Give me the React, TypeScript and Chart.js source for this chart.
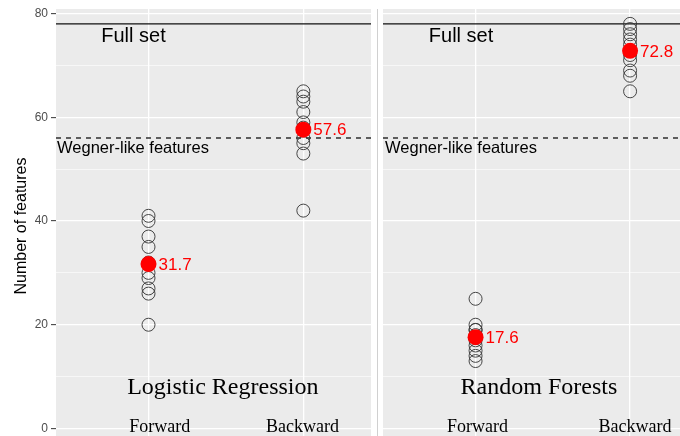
import { useEffect, useRef } from "react";
import { Chart, registerables } from "chart.js";

Chart.register(...registerables);

// ---------- data ----------
const categories = ["Forward", "Backward"];
const panelTitles = ["Logistic Regression", "Random Forests"];
const lrForward = [41, 40, 37, 35, 32, 30, 29, 27, 26, 20];
const lrBackward = [65, 64, 63, 61, 59, 58, 56, 55, 53, 42];
const rfForward = [25, 20, 19, 19, 18, 17, 16, 15, 14, 13];
const rfBackward = [78, 77, 76, 75, 74, 72, 71, 69, 68, 65];
const lrMeans = [31.7, 57.6];
const rfMeans = [17.6, 72.8];
const fullSetValue = 78;
const wegnerValue = 56;
const yMajorTicks = [0, 20, 40, 60, 80];
const yMinorTicks = [10, 30, 50, 70];
const refLabels = ["Full set", "Wegner-like features"];
const yTitle = "Number of features";

const SANS = "'Liberation Sans', Arial, sans-serif";
const SERIF = "'Liberation Serif', 'Times New Roman', serif";

type TextItem = { text: string; x: number; y: number; size: number; family: string; align: CanvasTextAlign };

function makePanel(
  canvas: HTMLCanvasElement,
  groups: number[][],
  means: number[],
  xMin: number,
  xMax: number,
  showY: boolean,
  texts: TextItem[]
) {
  const circleData: { x: number; y: number }[] = [];
  groups.forEach((g, i) => g.forEach((v) => circleData.push({ x: i + 1, y: v })));
  const meanData = means.map((m, i) => ({ x: i + 1, y: m }));

  const plugin = {
    id: "panelDecor",
    beforeDraw(chart: any) {
      const { ctx, chartArea: a } = chart;
      ctx.save();
      ctx.fillStyle = "#EBEBEB";
      ctx.fillRect(a.left, a.top, a.right - a.left, a.bottom - a.top);
      ctx.restore();
    },
    beforeDatasetsDraw(chart: any) {
      const { ctx, chartArea: a } = chart;
      const y = chart.scales.y;
      ctx.save();
      ctx.strokeStyle = "#111";
      ctx.lineWidth = 1.3;
      let py = y.getPixelForValue(fullSetValue);
      ctx.beginPath();
      ctx.moveTo(a.left, py);
      ctx.lineTo(a.right, py);
      ctx.stroke();
      ctx.setLineDash([5, 5]);
      py = y.getPixelForValue(wegnerValue);
      ctx.beginPath();
      ctx.moveTo(a.left, py);
      ctx.lineTo(a.right, py);
      ctx.stroke();
      ctx.restore();
    },
    afterDraw(chart: any) {
      const { ctx, chartArea: a } = chart;
      const x = chart.scales.x;
      const y = chart.scales.y;
      ctx.save();
      ctx.fillStyle = "#000";
      ctx.textBaseline = "alphabetic";
      texts.forEach((t) => {
        ctx.font = `${t.size}px ${t.family}`;
        ctx.textAlign = t.align;
        ctx.fillText(t.text, x.getPixelForValue(t.x), y.getPixelForValue(t.y));
      });
      // mean labels
      ctx.fillStyle = "#FF0000";
      ctx.font = `17px ${SANS}`;
      ctx.textAlign = "left";
      ctx.textBaseline = "middle";
      means.forEach((m, i) => {
        ctx.fillText(m.toFixed(1), x.getPixelForValue(i + 1) + 10, y.getPixelForValue(m) + 1);
      });
      if (showY) {
        // tick labels
        ctx.fillStyle = "#4D4D4D";
        ctx.font = `12px ${SANS}`;
        ctx.textAlign = "right";
        ctx.textBaseline = "middle";
        yMajorTicks.forEach((v) => {
          ctx.fillText(String(v), a.left - 8, y.getPixelForValue(v));
        });
        ctx.fillStyle = "#000";
        ctx.font = `16px ${SANS}`;
        ctx.textAlign = "center";
        ctx.textBaseline = "middle";
        ctx.translate(22, 226);
        ctx.rotate(-Math.PI / 2);
        ctx.fillText(yTitle, 0, 0);
      }
      ctx.restore();
    },
  };

  return new Chart(canvas, {
    type: "scatter",
    data: {
      datasets: [
        {
          label: "mean",
          data: meanData,
          pointRadius: 8,
          pointHoverRadius: 8,
          pointBackgroundColor: "#FF0000",
          pointBorderColor: "#FF0000",
          pointBorderWidth: 0,
          order: 0,
        },
        {
          label: "runs",
          data: circleData,
          pointRadius: 6.5,
          pointHoverRadius: 6.5,
          pointBackgroundColor: "rgba(0,0,0,0)",
          pointBorderColor: "#333",
          pointBorderWidth: 0.9,
          order: 1,
        },
      ],
    },
    options: {
      animation: false,
      responsive: false,
      devicePixelRatio: 1,
      layout: { autoPadding: false, padding: { top: 9, left: 0, right: 0, bottom: 0 } },
      plugins: { legend: { display: false }, tooltip: { enabled: false } },
      events: [],
      scales: {
        x: {
          type: "linear",
          min: xMin,
          max: xMax,
          border: { display: false },
          ticks: { display: false },
          grid: { color: "#FFFFFF", lineWidth: 1.3, drawTicks: false },
          afterBuildTicks: (s: any) => {
            s.ticks = categories.map((_, i) => ({ value: i + 1 }));
          },
          afterFit: (s: any) => {
            s.height = 0;
          },
        },
        y: {
          type: "linear",
          min: -1.446,
          max: 80.867,
          border: { display: false },
          afterBuildTicks: (s: any) => {
            s.ticks = [...yMajorTicks, ...yMinorTicks].sort((a, b) => a - b).map((v) => ({ value: v }));
          },
          ticks: { display: false },
          grid: {
            color: "#FFFFFF",
            lineWidth: (c: any) => (yMajorTicks.includes(c.tick?.value) ? 1.3 : 0.6),
            drawTicks: showY,
            tickLength: 5,
            tickColor: (c: any) => (yMajorTicks.includes(c.tick?.value) ? "#333333" : "rgba(0,0,0,0)"),
            tickWidth: 1,
          },
          afterFit: (s: any) => {
            s.width = showY ? 56 : 0;
          },
        },
      },
    },
    plugins: [plugin],
  } as any);
}

export default function App() {
  const leftRef = useRef<HTMLCanvasElement>(null);
  const rightRef = useRef<HTMLCanvasElement>(null);

  useEffect(() => {
    const left = makePanel(leftRef.current!, [lrForward, lrBackward], lrMeans, 0.4025, 2.437, true, [
      { text: refLabels[0], x: 0.903, y: 74.6, size: 20, family: SANS, align: "center" },
      { text: refLabels[1], x: 0.409, y: 53.2, size: 16.5, family: SANS, align: "left" },
      { text: panelTitles[0], x: 1.48, y: 6.6, size: 24, family: SERIF, align: "center" },
      { text: categories[0], x: 1.072, y: -0.73, size: 18, family: SERIF, align: "center" },
      { text: categories[1], x: 1.995, y: -0.73, size: 18, family: SERIF, align: "center" },
    ]);
    const right = makePanel(rightRef.current!, [rfForward, rfBackward], rfMeans, 0.401, 2.323, false, [
      { text: refLabels[0], x: 0.906, y: 74.6, size: 20, family: SANS, align: "center" },
      { text: refLabels[1], x: 0.414, y: 53.2, size: 16.5, family: SANS, align: "left" },
      { text: panelTitles[1], x: 1.41, y: 6.6, size: 24, family: SERIF, align: "center" },
      { text: categories[0], x: 1.013, y: -0.73, size: 18, family: SERIF, align: "center" },
      { text: categories[1], x: 2.032, y: -0.73, size: 18, family: SERIF, align: "center" },
    ]);
    return () => {
      left.destroy();
      right.destroy();
    };
  }, []);

  return (
    <div style={{ position: "absolute", left: 0, top: 0, width: 680, height: 436, background: "#fff", overflow: "hidden" }}>
      <canvas ref={leftRef} width={371} height={436} style={{ position: "absolute", left: 0, top: 0, width: 371, height: 436 }} />
      <div style={{ position: "absolute", left: 377, top: 9, width: 1, height: 427, background: "#D0D0D0" }} />
      <canvas ref={rightRef} width={297} height={436} style={{ position: "absolute", left: 383, top: 0, width: 297, height: 436 }} />
    </div>
  );
}
